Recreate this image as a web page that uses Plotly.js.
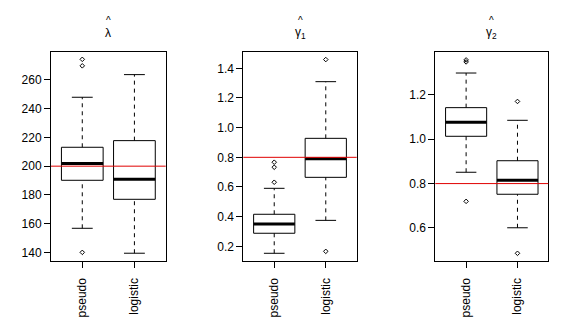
<!DOCTYPE html>
<html>
<head>
<meta charset="utf-8">
<script src="https://cdn.plot.ly/plotly-3.0.1.min.js"></script>
<style>html,body{margin:0;padding:0;background:#fff;}#chart{width:575px;height:326px;}</style>
</head>
<body>
<div id="chart"></div>
<script>
// ---- data ----
const categories = ['pseudo', 'logistic'];

const lamLower = [156.9, 139.6];
const lamQ1    = [190.2, 177.0];
const lamMed   = [201.8, 190.9];
const lamQ3    = [213.1, 217.7];
const lamUpper = [247.8, 263.5];
const lamOutliers = [[140.2, 269.6, 274.1], []];

const g1Lower = [0.153, 0.375];
const g1Q1    = [0.288, 0.665];
const g1Med   = [0.350, 0.791];
const g1Q3    = [0.416, 0.928];
const g1Upper = [0.591, 1.310];
const g1Outliers = [[0.632, 0.733, 0.767], [0.166, 1.459]];

const g2Lower = [0.851, 0.601];
const g2Q1    = [1.013, 0.752];
const g2Med   = [1.076, 0.815];
const g2Q3    = [1.142, 0.903];
const g2Upper = [1.298, 1.085];
const g2Outliers = [[0.720, 1.348, 1.357], [0.486, 1.170]];

const trueValues = [200, 0.8, 0.8];
const panelTitles = ['λ', 'γ<sub>1</sub>', 'γ<sub>2</sub>'];
const yTicks = [
  [140, 160, 180, 200, 220, 240, 260],
  [0.2, 0.4, 0.6, 0.8, 1.0, 1.2, 1.4],
  [0.6, 0.8, 1.0, 1.2]
];
const yRanges = [[134.0, 279.4], [0.099, 1.512], [0.45, 1.394]];

// ---- build ----
const panels = [
  {lo: lamLower, q1: lamQ1, med: lamMed, q3: lamQ3, hi: lamUpper, out: lamOutliers},
  {lo: g1Lower, q1: g1Q1, med: g1Med, q3: g1Q3, hi: g1Upper, out: g1Outliers},
  {lo: g2Lower, q1: g2Q1, med: g2Med, q3: g2Q3, hi: g2Upper, out: g2Outliers}
];

const W = 575, H = 326;
const xDomainsPx = [[51, 165.7], [243.3, 356.7], [435.3, 548.3]];
const yDomainPx = [51.7, 261.3];
const FONT = '"Liberation Sans", Arial, sans-serif';

const traces = [];
const shapes = [];
const annotations = [];
const layout = {
  width: W, height: H,
  margin: {l: 0, r: 0, t: 0, b: 0},
  paper_bgcolor: '#fff', plot_bgcolor: '#fff',
  showlegend: false,
  font: {family: FONT, size: 12, color: '#000'}
};

const bw = 0.4, cw = 0.2;
panels.forEach((p, k) => {
  const xa = k === 0 ? 'x' : 'x' + (k + 1);
  const ya = k === 0 ? 'y' : 'y' + (k + 1);
  const xKey = k === 0 ? 'xaxis' : 'xaxis' + (k + 1);
  const yKey = k === 0 ? 'yaxis' : 'yaxis' + (k + 1);
  const boxX = [], boxY = [], whX = [], whY = [], capX = [], capY = [], medX = [], medY = [], oX = [], oY = [];
  categories.forEach((c, i) => {
    const xc = i + 1;
    boxX.push(xc - bw, xc + bw, xc + bw, xc - bw, xc - bw, null);
    boxY.push(p.q1[i], p.q1[i], p.q3[i], p.q3[i], p.q1[i], null);
    whX.push(xc, xc, null, xc, xc, null);
    whY.push(p.lo[i], p.q1[i], null, p.q3[i], p.hi[i], null);
    capX.push(xc - cw, xc + cw, null, xc - cw, xc + cw, null);
    capY.push(p.lo[i], p.lo[i], null, p.hi[i], p.hi[i], null);
    medX.push(xc - bw, xc + bw, null);
    medY.push(p.med[i], p.med[i], null);
    p.out[i].forEach(v => { oX.push(xc); oY.push(v); });
  });
  const common = {xaxis: xa, yaxis: ya, type: 'scatter', hoverinfo: 'skip'};
  traces.push(Object.assign({}, common, {x: whX, y: whY, mode: 'lines', line: {color: '#000', width: 1, dash: '4px,4px'}}));
  traces.push(Object.assign({}, common, {x: capX, y: capY, mode: 'lines', line: {color: '#000', width: 1}}));
  traces.push(Object.assign({}, common, {x: boxX, y: boxY, mode: 'lines', line: {color: '#000', width: 1}}));
  traces.push(Object.assign({}, common, {x: medX, y: medY, mode: 'lines', line: {color: '#000', width: 3}}));
  traces.push(Object.assign({}, common, {x: oX, y: oY, mode: 'markers', marker: {symbol: 'diamond-open', size: 3.5, color: '#000', line: {width: 1, color: '#000'}}}));

  const dx = xDomainsPx[k];
  layout[xKey] = {
    domain: [dx[0] / W, dx[1] / W],
    range: [0.4, 2.6],
    anchor: ya,
    tickvals: [1, 2], ticktext: categories,
    tickangle: -90,
    ticks: 'outside', ticklen: 6, tickcolor: '#000', tickwidth: 1,
    ticklabelstandoff: 5,
    showline: true, linecolor: '#000', linewidth: 1, mirror: true,
    showgrid: false, zeroline: false, fixedrange: true,
    tickfont: {family: FONT, size: 12, color: '#000'}
  };
  layout[yKey] = {
    domain: [(H - yDomainPx[1]) / H, (H - yDomainPx[0]) / H],
    range: yRanges[k],
    anchor: xa,
    tickvals: yTicks[k],
    tickformat: k === 0 ? 'd' : '.1f',
    ticks: 'outside', ticklen: 6, tickcolor: '#000', tickwidth: 1,
    showline: true, linecolor: '#000', linewidth: 1, mirror: true,
    showgrid: false, zeroline: false, fixedrange: true,
    tickfont: {family: FONT, size: 12, color: '#000'}
  };

  shapes.push({type: 'line', xref: xa + ' domain', yref: ya, x0: 0, x1: 1, y0: trueValues[k], y1: trueValues[k], line: {color: '#e00000', width: 1}, layer: 'above'});

  const cx = (dx[0] + dx[1]) / 2 / W;
  annotations.push({xref: 'paper', yref: 'paper', x: cx, y: (H - 21) / H, text: '^', showarrow: false, font: {family: FONT, size: 10, color: '#000'}, xanchor: 'center', yanchor: 'middle'});
  annotations.push({xref: 'paper', yref: 'paper', x: cx, y: (H - 33) / H, text: panelTitles[k], showarrow: false, font: {family: FONT, size: 12, color: '#000'}, xanchor: 'center', yanchor: 'middle'});
});

layout.shapes = shapes;
layout.annotations = annotations;

Plotly.newPlot('chart', traces, layout, {displayModeBar: false, staticPlot: true});
</script>
</body>
</html>
